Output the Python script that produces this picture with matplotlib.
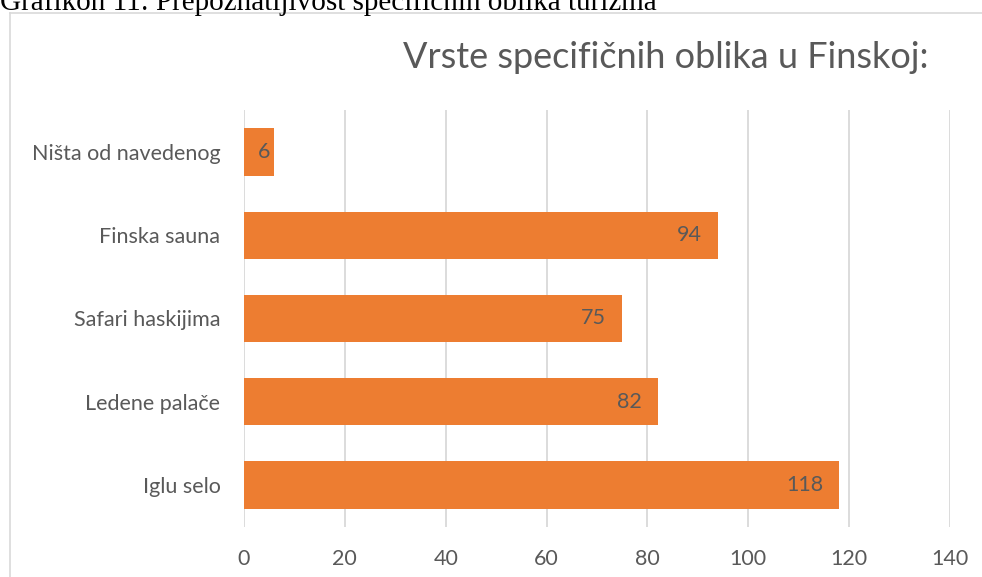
import matplotlib
matplotlib.use("Agg")
import matplotlib.pyplot as plt
from matplotlib.lines import Line2D

categories = ["Iglu selo", "Ledene palače", "Safari haskijima", "Finska sauna", "Ništa od navedenog"]
values = [118, 82, 75, 94, 6]
xticks = [0, 20, 40, 60, 80, 100, 120, 140]
title = "Vrste specifičnih oblika u Finskoj:"
caption = "Grafikon 11: Prepoznatljivost specifičnih oblika turizma"

W, H = 982, 577
fig = plt.figure(figsize=(W / 100, H / 100), dpi=100)
fam = ["Lato", "DejaVu Sans"]
txt = "#595959"
grid = "#D9D9D9"
bar_c = "#ED7D31"
fs = 15.5

ax = fig.add_axes([244 / W, (H - 526.5) / H, (950 - 244) / W, (526.5 - 110.5) / H])
ypos = list(range(len(categories)))
ax.barh(ypos, values, height=0.57, color=bar_c, zorder=3)
ax.set_xlim(0, 140)
ax.set_ylim(-0.5, len(categories) - 0.5)
ax.set_xticks(xticks)
ax.set_xticklabels([str(t) for t in xticks], family=fam, fontsize=fs, color=txt)
ax.set_yticks(ypos)
ax.set_yticklabels(categories, family=fam, fontsize=fs, color=txt)
ax.tick_params(axis="both", length=0)
ax.tick_params(axis="y", pad=17)
ax.tick_params(axis="x", pad=16)
ax.grid(axis="x", color=grid, linewidth=1.3, zorder=0)
for s in ax.spines.values():
    s.set_visible(False)

px_per_unit = (950 - 244) / 140
for y, v in zip(ypos, values):
    wpx = v * px_per_unit
    if wpx < 40:
        off = -3.0
    else:
        off = -11.5
    ax.annotate(str(v), (v, y), xytext=(off, 0), textcoords="offset points",
                ha="right", va="center", family=fam, fontsize=fs, color=txt, zorder=4)

fig.text(666 / W, 1 - 57 / H, title, ha="center", va="center", family=fam,
         fontsize=26, color=txt)

# caption (partly cut off at top)
fig.text(0, 1 - 10 / H, caption, ha="left", va="baseline",
         family=["Liberation Serif", "DejaVu Serif"], fontsize=21, color="black")

# chart frame
fig.add_artist(Line2D([10 / W, 1], [1 - 12.5 / H, 1 - 12.5 / H], transform=fig.transFigure,
                      color=grid, linewidth=1.2))
fig.add_artist(Line2D([10 / W, 10 / W], [0, 1 - 12.5 / H], transform=fig.transFigure,
                      color=grid, linewidth=1.2))

fig.savefig("out.png", dpi=100)
